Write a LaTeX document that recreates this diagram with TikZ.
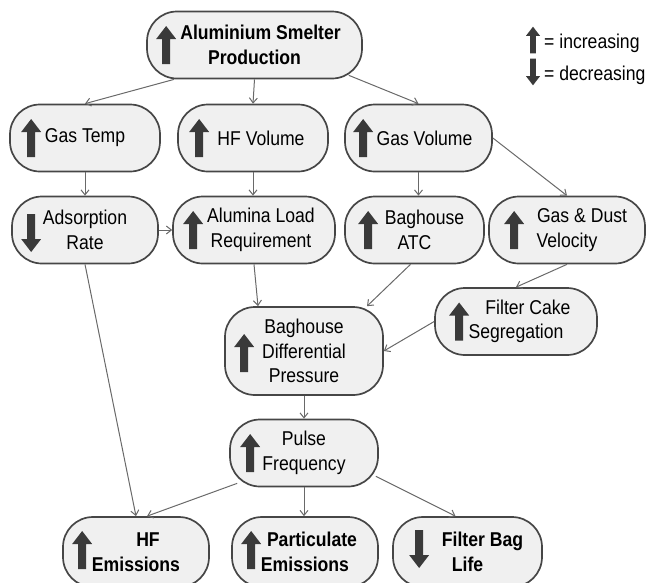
\documentclass[tikz,border=0pt]{standalone}
\usepackage{fontspec}
\setmainfont{Liberation Sans}[FakeStretch=0.88]
\usepackage{tikz}
\usetikzlibrary{arrows.meta}
\definecolor{boxfill}{RGB}{240,240,240}
\definecolor{boxline}{RGB}{70,70,70}
\definecolor{connline}{RGB}{105,105,105}
\definecolor{iconfill}{RGB}{58,58,58}
\newcommand{\boxfont}{\fontsize{20}{24.5}\selectfont}

\begin{document}
\begin{tikzpicture}[x=1pt,y=-1pt]
	\tikzset{
		box/.style={draw=boxline,fill=boxfill,line width=1.7pt,rounded corners=30pt,minimum height=67pt,inner sep=0pt,align=center,font=\boxfont},
		boldbox/.style={box,font=\boxfont\bfseries},
		legendtext/.style={anchor=west,inner sep=0pt,font=\boxfont},
		conn/.style={color=connline,line width=1pt,-{Straight Barb[length=5pt,width=8pt]}},
		uparrow/.pic={\fill[iconfill] (-4pt,-19pt) -- (-4pt,6pt) -- (-10pt,6pt) -- (0pt,19pt) -- (10pt,6pt) -- (4pt,6pt) -- (4pt,-19pt) -- cycle;},
		downarrow/.pic={\fill[iconfill] (-4pt,19pt) -- (-4pt,-6pt) -- (-10pt,-6pt) -- (0pt,-19pt) -- (10pt,-6pt) -- (4pt,-6pt) -- (4pt,19pt) -- cycle;}
	}
	\useasboundingbox (0,0) rectangle (647,582);
	\node[boldbox,minimum width=215pt] (smelter) at (254.5,45) {\hspace*{12pt}Aluminium Smelter\\Production};
	\node[box,minimum width=150pt] (gastemp) at (85,138) {Gas Temp};
	\node[box,minimum width=150pt] (hfvolume) at (253,138) {\hspace*{16pt}HF Volume};
	\node[box,minimum width=147pt] (gasvolume) at (418.5,138) {\hspace*{12pt}Gas Volume};
	\node[box,minimum width=146pt] (adsorption) at (85,230) {Adsorption\\Rate};
	\node[box,minimum width=162pt] (alumina) at (254,230) {\hspace*{14pt}Alumina Load\\\hspace*{14pt}Requirement};
	\node[box,minimum width=139pt] (atc) at (414.5,230) {\hspace*{20pt}Baghouse\\ATC};
	\node[box,minimum width=156pt] (velocity) at (567,230) {\hspace*{30pt}Gas \& Dust\\Velocity};
	\node[box,minimum width=162pt] (filtercake) at (516,321.5) {\hspace*{24pt}Filter Cake\\Segregation};
	\node[box,minimum width=158pt,minimum height=88pt] (pressure) at (304,351) {Baghouse\\Differential\\Pressure};
	\node[box,minimum width=148pt] (pulse) at (304,453) {Pulse\\Frequency};
	\node[boldbox,minimum width=146pt,minimum height=70pt] (hfemissions) at (136,552) {\hspace*{24pt}HF\\Emissions};
	\node[boldbox,minimum width=146pt,minimum height=70pt] (particulate) at (305,552) {\hspace*{14pt}Particulate\\Emissions};
	\node[boldbox,minimum width=149pt,minimum height=70pt] (baglife) at (467.5,552) {\hspace*{30pt}Filter Bag\\Life};
	\pic at ([xshift=20pt]smelter.west) {uparrow};
	\pic at ([xshift=22pt]gastemp.west) {uparrow};
	\pic at ([xshift=22pt]hfvolume.west) {uparrow};
	\pic at ([xshift=19pt]gasvolume.west) {uparrow};
	\pic at ([xshift=20pt,yshift=-3pt]adsorption.west) {downarrow};
	\pic at ([xshift=21pt]alumina.west) {uparrow};
	\pic at ([xshift=24pt]atc.west) {uparrow};
	\pic at ([xshift=26pt]velocity.west) {uparrow};
	\pic at ([xshift=25pt]filtercake.west) {uparrow};
	\pic at ([xshift=20pt,yshift=-2pt]pressure.west) {uparrow};
	\pic at ([xshift=21pt]pulse.west) {uparrow};
	\pic at ([xshift=20pt,yshift=2pt]hfemissions.west) {uparrow};
	\pic at ([xshift=20pt,yshift=2pt]particulate.west) {uparrow};
	\pic at ([xshift=27pt,yshift=3pt]baglife.west) {downarrow};
	\pic[scale=0.7] at (533,40) {uparrow};
	\node[legendtext] (increasing) at (544,43) {= increasing};
	\pic[scale=0.7] at (533,72) {downarrow};
	\node[legendtext] (decreasing) at (544,75) {= decreasing};
	\path[conn]
		([xshift=28pt]smelter.south west) edge (gastemp.north)
		(smelter.south) edge (hfvolume.north)
		([xshift=-14pt,yshift=4pt]smelter.south east) edge (gasvolume.north)
		(gastemp.south) edge (adsorption.north)
		(hfvolume.south) edge (hfvolume.south |- alumina.north)
		(gasvolume.south) edge (gasvolume.south |- atc.north)
		(gasvolume.east) edge (velocity.north)
		(adsorption.east) edge (alumina.west)
		(adsorption.south) edge (hfemissions.north)
		(alumina.south) edge ([xshift=-46pt]pressure.north)
		([xshift=-4pt]atc.south) edge ([xshift=63pt]pressure.north)
		(velocity.south) edge (filtercake.north)
		(filtercake.west) edge (pressure.east)
		(pressure.south) edge (pulse.north)
		([xshift=8pt,yshift=4pt]pulse.south west) edge ([xshift=11pt]hfemissions.north)
		(pulse.south) edge (pulse.south |- particulate.north)
		([xshift=-3pt,yshift=11pt]pulse.south east) edge ([xshift=-12pt]baglife.north);
\end{tikzpicture}
\end{document}
